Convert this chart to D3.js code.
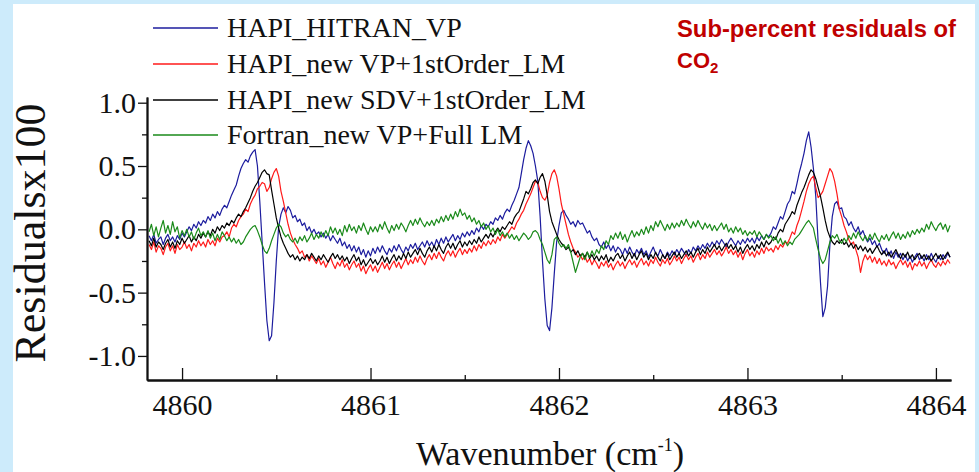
<!DOCTYPE html>
<html>
<head>
<meta charset="utf-8">
<script src="https://cdn.jsdelivr.net/npm/d3@7"></script>
<style>
  html, body { margin: 0; padding: 0; background: #cdebfb; }
  svg { display: block; }
</style>
</head>
<body>
<svg id="chart" width="979" height="472"></svg>
<script>
// ---------------- DATA ----------------
// spectral sampling grid (cm^-1)
const wavenumberStart = 4859.825;
const wavenumberStep = 0.0125;
const sampleCount = 341;

const seriesNames = ["HAPI_HITRAN_VP", "HAPI_new VP+1stOrder_LM", "HAPI_new SDV+1stOrder_LM", "Fortran_new VP+Full LM"];

const hapiHitranVP = [
-0.05,-0.09,-0.04,-0.11,-0.08,-0.06,-0.12,-0.07,
-0.04,-0.09,-0.06,-0.10,-0.05,-0.08,-0.03,-0.06,
-0.02,0.02,-0.01,0.04,0.01,0.06,0.03,0.07,
0.05,0.10,0.07,0.12,0.09,0.14,0.11,0.16,
0.19,0.17,0.22,0.27,0.31,0.35,0.42,0.48,
0.52,0.55,0.53,0.58,0.61,0.63,0.50,0.22,
-0.10,-0.42,-0.72,-0.88,-0.84,-0.58,-0.25,0.02,
0.12,0.17,0.13,0.18,0.15,0.09,0.11,0.06,
0.08,0.03,0.05,-0.01,0.02,-0.03,0.00,-0.04,
-0.02,-0.06,-0.03,-0.07,-0.04,-0.09,-0.05,-0.08,
-0.11,-0.07,-0.13,-0.10,-0.15,-0.12,-0.17,-0.13,
-0.18,-0.14,-0.20,-0.16,-0.22,-0.17,-0.21,-0.15,
-0.19,-0.14,-0.18,-0.13,-0.17,-0.20,-0.15,-0.18,
-0.13,-0.17,-0.12,-0.16,-0.19,-0.14,-0.17,-0.12,
-0.15,-0.11,-0.16,-0.13,-0.10,-0.14,-0.09,-0.13,
-0.10,-0.14,-0.08,-0.12,-0.07,-0.11,-0.06,-0.10,
-0.07,-0.04,-0.09,-0.05,-0.08,-0.03,-0.06,-0.02,
-0.05,-0.01,-0.04,0.01,-0.02,0.03,0.00,0.04,
0.02,0.06,0.04,0.09,0.07,0.11,0.08,0.13,
0.16,0.14,0.19,0.23,0.28,0.33,0.44,0.55,
0.64,0.70,0.66,0.60,0.50,0.38,0.10,-0.25,
-0.55,-0.76,-0.80,-0.62,-0.35,-0.10,0.03,0.13,
0.15,0.11,0.08,0.04,0.06,0.02,0.07,0.04,
0.05,0.01,-0.03,-0.01,-0.06,-0.09,-0.07,-0.12,
-0.14,-0.10,-0.15,-0.12,-0.17,-0.13,-0.18,-0.14,
-0.16,-0.20,-0.15,-0.19,-0.14,-0.18,-0.21,-0.16,
-0.19,-0.15,-0.20,-0.17,-0.22,-0.18,-0.14,-0.19,
-0.21,-0.16,-0.20,-0.23,-0.18,-0.21,-0.17,-0.20,
-0.16,-0.19,-0.15,-0.18,-0.21,-0.16,-0.19,-0.14,
-0.17,-0.13,-0.16,-0.12,-0.15,-0.11,-0.14,-0.10,
-0.13,-0.09,-0.12,-0.08,-0.11,-0.14,-0.10,-0.07,
-0.10,-0.13,-0.09,-0.12,-0.08,-0.11,-0.07,-0.10,
-0.07,-0.11,-0.06,-0.09,-0.05,-0.08,-0.04,-0.06,
-0.03,0.02,0.00,0.05,0.10,0.08,0.14,0.20,
0.23,0.30,0.28,0.36,0.45,0.52,0.60,0.70,
0.77,0.65,0.48,0.26,-0.10,-0.42,-0.69,-0.62,
-0.45,-0.12,0.10,0.20,0.22,0.16,0.17,0.10,
0.08,0.03,0.06,0.01,-0.02,0.02,-0.04,-0.01,
-0.06,-0.10,-0.07,-0.12,-0.09,-0.14,-0.11,-0.16,
-0.19,-0.15,-0.21,-0.17,-0.23,-0.18,-0.22,-0.19,
-0.24,-0.20,-0.25,-0.21,-0.26,-0.22,-0.19,-0.24,
-0.21,-0.25,-0.20,-0.24,-0.19,-0.23,-0.26,-0.21,
-0.24,-0.20,-0.23,-0.19,-0.22
];

const hapiNewVP = [
-0.12,-0.16,-0.10,-0.18,-0.13,-0.15,-0.20,-0.14,
-0.11,-0.17,-0.13,-0.19,-0.12,-0.16,-0.14,-0.10,
-0.15,-0.12,-0.17,-0.11,-0.14,-0.09,-0.13,-0.10,
-0.14,-0.08,-0.12,-0.09,-0.13,-0.07,-0.10,-0.06,
-0.05,-0.02,-0.06,0.01,0.04,0.02,0.07,0.10,
0.12,0.16,0.14,0.20,0.24,0.27,0.32,0.34,
0.37,0.36,0.30,0.33,0.40,0.45,0.48,0.42,
0.30,0.22,0.13,0.04,-0.03,-0.08,-0.12,-0.15,
-0.19,-0.17,-0.22,-0.20,-0.25,-0.21,-0.24,-0.27,
-0.23,-0.28,-0.25,-0.30,-0.26,-0.22,-0.27,-0.31,
-0.26,-0.29,-0.24,-0.30,-0.27,-0.32,-0.28,-0.25,
-0.30,-0.27,-0.33,-0.29,-0.35,-0.31,-0.28,-0.33,
-0.29,-0.34,-0.30,-0.26,-0.31,-0.27,-0.32,-0.28,
-0.25,-0.30,-0.26,-0.31,-0.27,-0.23,-0.28,-0.24,
-0.27,-0.22,-0.26,-0.21,-0.25,-0.28,-0.23,-0.20,
-0.24,-0.19,-0.23,-0.18,-0.22,-0.25,-0.20,-0.17,
-0.21,-0.17,-0.22,-0.18,-0.15,-0.20,-0.16,-0.19,
-0.15,-0.18,-0.13,-0.17,-0.12,-0.15,-0.10,-0.13,
-0.09,-0.12,-0.08,-0.11,-0.06,-0.09,-0.04,-0.07,
-0.04,-0.01,0.02,0.00,0.05,0.08,0.12,0.15,
0.20,0.24,0.28,0.33,0.38,0.37,0.30,0.25,
0.23,0.27,0.37,0.44,0.47,0.42,0.32,0.20,
0.12,0.04,-0.04,-0.10,-0.15,-0.18,-0.22,-0.20,
-0.24,-0.21,-0.26,-0.23,-0.28,-0.24,-0.27,-0.31,
-0.26,-0.29,-0.25,-0.30,-0.27,-0.32,-0.28,-0.25,
-0.29,-0.26,-0.31,-0.27,-0.24,-0.28,-0.25,-0.30,
-0.26,-0.23,-0.28,-0.25,-0.29,-0.24,-0.27,-0.22,
-0.26,-0.29,-0.24,-0.27,-0.23,-0.28,-0.25,-0.21,
-0.25,-0.22,-0.27,-0.23,-0.20,-0.24,-0.21,-0.26,
-0.22,-0.19,-0.24,-0.20,-0.23,-0.18,-0.22,-0.19,
-0.16,-0.20,-0.17,-0.21,-0.18,-0.14,-0.19,-0.16,
-0.20,-0.17,-0.22,-0.18,-0.24,-0.19,-0.16,-0.21,
-0.18,-0.22,-0.17,-0.20,-0.15,-0.19,-0.14,-0.17,
-0.15,-0.18,-0.13,-0.16,-0.12,-0.14,-0.10,-0.11,
-0.07,-0.02,-0.04,0.03,0.08,0.15,0.22,0.30,
0.36,0.40,0.42,0.33,0.25,0.27,0.30,0.36,
0.42,0.48,0.45,0.38,0.28,0.16,0.10,0.03,
-0.02,-0.08,-0.12,-0.10,-0.16,-0.22,-0.34,-0.25,
-0.20,-0.24,-0.21,-0.26,-0.22,-0.27,-0.23,-0.28,
-0.25,-0.29,-0.24,-0.28,-0.26,-0.31,-0.27,-0.24,
-0.28,-0.25,-0.30,-0.26,-0.32,-0.27,-0.29,-0.25,
-0.29,-0.26,-0.31,-0.27,-0.24,-0.28,-0.30,-0.26,
-0.29,-0.25,-0.28,-0.24,-0.27
];

const hapiNewSDV = [
-0.09,-0.13,-0.07,-0.14,-0.10,-0.12,-0.16,-0.11,
-0.08,-0.14,-0.10,-0.15,-0.09,-0.12,-0.07,-0.11,
-0.08,-0.05,-0.10,-0.06,-0.09,-0.04,-0.07,-0.03,
-0.06,-0.02,-0.05,0.00,-0.03,0.02,-0.01,0.03,
0.01,0.05,0.03,0.07,0.05,0.09,0.12,0.10,
0.14,0.17,0.21,0.25,0.30,0.34,0.37,0.41,
0.45,0.47,0.44,0.43,0.31,0.20,0.09,0.01,
-0.06,-0.11,-0.15,-0.19,-0.22,-0.20,-0.24,-0.21,
-0.25,-0.22,-0.24,-0.20,-0.23,-0.19,-0.22,-0.25,
-0.21,-0.24,-0.20,-0.23,-0.26,-0.22,-0.19,-0.23,
-0.20,-0.24,-0.21,-0.25,-0.22,-0.27,-0.23,-0.20,
-0.25,-0.22,-0.28,-0.24,-0.29,-0.26,-0.23,-0.27,
-0.24,-0.28,-0.25,-0.21,-0.26,-0.22,-0.27,-0.23,
-0.20,-0.25,-0.21,-0.24,-0.19,-0.23,-0.18,-0.22,
-0.19,-0.16,-0.20,-0.15,-0.19,-0.22,-0.17,-0.14,
-0.18,-0.13,-0.17,-0.12,-0.16,-0.19,-0.14,-0.11,
-0.15,-0.11,-0.16,-0.12,-0.09,-0.14,-0.10,-0.13,
-0.09,-0.12,-0.08,-0.11,-0.06,-0.10,-0.07,-0.04,
-0.07,-0.03,-0.06,-0.02,0.01,-0.02,0.02,0.00,
0.03,0.06,0.04,0.09,0.12,0.14,0.19,0.24,
0.30,0.28,0.32,0.37,0.39,0.36,0.41,0.44,
0.38,0.27,0.14,0.06,0.01,-0.04,-0.08,-0.11,
-0.13,-0.16,-0.14,-0.18,-0.16,-0.20,-0.17,-0.21,
-0.19,-0.22,-0.18,-0.23,-0.20,-0.24,-0.21,-0.25,
-0.21,-0.24,-0.20,-0.26,-0.22,-0.25,-0.21,-0.19,
-0.23,-0.20,-0.25,-0.21,-0.18,-0.23,-0.19,-0.24,
-0.20,-0.17,-0.22,-0.19,-0.24,-0.20,-0.23,-0.18,
-0.22,-0.25,-0.20,-0.23,-0.19,-0.24,-0.21,-0.18,
-0.22,-0.19,-0.23,-0.20,-0.17,-0.21,-0.18,-0.22,
-0.18,-0.15,-0.20,-0.16,-0.19,-0.14,-0.18,-0.15,
-0.12,-0.16,-0.13,-0.17,-0.14,-0.11,-0.15,-0.12,
-0.16,-0.13,-0.18,-0.14,-0.19,-0.15,-0.12,-0.16,
-0.13,-0.17,-0.12,-0.15,-0.10,-0.14,-0.09,-0.12,
-0.10,-0.06,-0.08,-0.03,0.00,-0.02,0.04,0.07,
0.10,0.14,0.12,0.19,0.24,0.29,0.33,0.38,
0.43,0.47,0.45,0.40,0.33,0.26,0.17,0.07,
-0.01,-0.06,-0.10,-0.12,-0.09,-0.11,-0.08,-0.12,
-0.10,-0.14,-0.11,-0.15,-0.12,-0.16,-0.13,-0.17,
-0.14,-0.18,-0.15,-0.19,-0.16,-0.13,-0.17,-0.20,
-0.17,-0.21,-0.18,-0.22,-0.19,-0.16,-0.20,-0.23,
-0.19,-0.22,-0.18,-0.23,-0.20,-0.24,-0.21,-0.19,
-0.23,-0.20,-0.24,-0.21,-0.25,-0.22,-0.19,-0.23,
-0.20,-0.24,-0.21,-0.18,-0.22
];

const fortranNewVP = [
-0.02,0.04,-0.05,0.02,-0.06,0.01,0.07,-0.03,
0.03,-0.04,0.06,-0.02,0.02,-0.07,-0.01,-0.05,
0.00,-0.06,-0.02,-0.08,-0.03,0.01,-0.05,-0.02,
-0.06,-0.01,-0.07,-0.03,-0.09,-0.04,-0.08,-0.02,
-0.05,-0.09,-0.06,-0.10,-0.07,-0.11,-0.08,-0.12,
-0.10,-0.06,-0.03,0.00,0.02,0.03,-0.01,-0.06,
-0.12,-0.17,-0.19,-0.15,-0.09,-0.04,0.01,0.04,
0.02,-0.03,-0.06,-0.04,-0.08,-0.10,-0.07,-0.11,
-0.06,-0.09,-0.05,-0.10,-0.07,-0.03,-0.08,-0.04,
-0.07,-0.02,-0.06,-0.01,-0.05,0.02,-0.03,0.01,
-0.04,0.00,-0.05,0.03,-0.02,0.04,-0.01,0.02,
-0.03,0.03,-0.01,0.05,0.00,-0.04,0.02,-0.02,
0.02,-0.02,0.04,0.00,0.06,0.01,-0.03,0.03,
-0.01,0.04,0.00,0.05,0.02,-0.02,0.03,0.07,
0.03,0.08,0.04,0.09,0.05,0.02,0.06,0.03,
0.07,0.03,0.08,0.05,0.10,0.06,0.11,0.07,
0.12,0.08,0.14,0.10,0.16,0.11,0.13,0.08,
0.11,0.06,0.09,0.04,0.07,0.02,0.05,0.00,
0.03,-0.02,0.01,-0.04,0.00,-0.05,-0.02,-0.06,
-0.03,-0.07,-0.04,-0.08,-0.05,-0.09,-0.06,-0.03,
-0.05,-0.08,-0.06,-0.02,-0.01,-0.03,-0.08,-0.12,
-0.18,-0.24,-0.27,-0.20,-0.08,-0.06,-0.11,-0.14,
-0.12,-0.15,-0.12,-0.18,-0.26,-0.34,-0.28,-0.22,
-0.19,-0.24,-0.18,-0.22,-0.17,-0.21,-0.16,-0.19,
-0.13,-0.16,-0.09,-0.12,-0.05,-0.08,-0.03,-0.07,
-0.02,-0.08,-0.04,-0.10,-0.05,-0.01,-0.06,-0.02,
-0.05,0.00,-0.04,0.02,-0.03,0.03,-0.01,0.06,
0.02,0.07,0.03,-0.01,0.04,0.00,0.05,0.01,
0.05,0.02,0.07,0.03,0.08,0.04,0.01,0.06,
0.02,0.07,0.03,0.00,0.05,0.01,0.04,-0.01,
0.03,-0.01,0.02,0.05,0.00,0.04,-0.02,0.01,
-0.03,0.02,-0.02,0.01,-0.04,-0.01,-0.05,-0.02,
-0.04,-0.01,-0.06,-0.02,-0.05,-0.08,-0.04,-0.07,
-0.05,-0.09,-0.06,-0.11,-0.07,-0.12,-0.09,-0.13,
-0.10,-0.12,-0.08,-0.06,-0.04,-0.01,0.02,0.05,
0.07,0.04,0.01,-0.08,-0.16,-0.23,-0.27,-0.24,
-0.17,-0.10,-0.05,-0.07,-0.04,-0.09,-0.11,-0.07,
-0.10,-0.05,-0.08,-0.03,-0.07,-0.02,-0.06,-0.09,
-0.05,-0.09,-0.04,-0.08,-0.03,-0.07,-0.10,-0.05,
-0.08,-0.04,-0.09,-0.05,-0.02,-0.07,-0.03,-0.08,
-0.04,-0.07,-0.02,-0.06,-0.01,-0.04,0.00,-0.03,
0.01,-0.02,0.04,0.00,0.06,0.02,-0.01,0.03,
0.05,0.00,0.04,-0.02,0.03
];

const xTickValues = [4860, 4861, 4862, 4863, 4864];
const xMinorTickValues = [4860.5, 4861.5, 4862.5, 4863.5];
const yTickValues = [-1.0, -0.5, 0.0, 0.5, 1.0];
const yMinorTickValues = [-0.75, -0.25, 0.25, 0.75];

const xDomain = [4859.814, 4864.08];
const yDomain = [-1.19, 1.045];

// ---------------- DRAW ----------------
const svg = d3.select("#chart");
const serif = "'Liberation Serif','Times New Roman',serif";
const colors = ["#1c1c9e", "#ff1a1a", "#000000", "#1a8a1a"];

// white panel on light-blue frame
svg.append("rect").attr("x", 0).attr("y", 0).attr("width", 979).attr("height", 472).attr("fill", "#cdebfb");
svg.append("rect").attr("x", 13).attr("y", 4).attr("width", 962).attr("height", 468).attr("fill", "#ffffff");

const plot = { left: 147, right: 951, top: 97, bottom: 380 };
const x = d3.scaleLinear().domain(xDomain).range([plot.left, plot.right]);
const y = d3.scaleLinear().domain(yDomain).range([plot.bottom, plot.top]);

const wavenumbers = d3.range(sampleCount).map(i => +(wavenumberStart + i * wavenumberStep).toFixed(4));
const allSeries = [hapiHitranVP, hapiNewVP, hapiNewSDV, fortranNewVP];

svg.append("clipPath").attr("id", "clip")
  .append("rect").attr("x", plot.left).attr("y", plot.top)
  .attr("width", plot.right - plot.left).attr("height", plot.bottom - plot.top);

const line = d3.line().x(d => x(d[0])).y(d => y(d[1]));
const gLines = svg.append("g").attr("clip-path", "url(#clip)");
allSeries.forEach((s, k) => {
  const pts = s.map((v, i) => [wavenumbers[i], v]);
  gLines.append("path").datum(pts)
    .attr("fill", "none").attr("stroke", colors[k])
    .attr("stroke-width", 1.2).attr("stroke-linejoin", "round")
    .attr("d", line);
});

// axes
const fmt = d => d3.format(".1f")(d).replace("\u2212", "-");

const xAxisMinor = d3.axisBottom(x).tickValues(xMinorTickValues).tickSizeInner(-5).tickSizeOuter(0).tickFormat("");
const xAxis = d3.axisBottom(x).tickValues(xTickValues).tickSizeInner(-12).tickSizeOuter(0).tickPadding(14).tickFormat(d3.format("d"));
const yAxisMinor = d3.axisLeft(y).tickValues(yMinorTickValues).tickSizeInner(5).tickSizeOuter(0).tickFormat("");
const yAxis = d3.axisLeft(y).tickValues(yTickValues).tickSizeInner(9).tickSizeOuter(0).tickPadding(2).tickFormat(fmt);

function styleAxis(g) {
  g.select(".domain").attr("stroke", "#111").attr("stroke-width", 1.8);
  g.selectAll(".tick line").attr("stroke", "#111").attr("stroke-width", 1.3);
  g.selectAll(".tick text").attr("font-family", serif).attr("font-size", 30).attr("fill", "#111");
}

svg.append("g").attr("transform", `translate(0,${plot.bottom})`).call(xAxisMinor).call(styleAxis);
svg.append("g").attr("transform", `translate(0,${plot.bottom})`).call(xAxis).call(styleAxis);
svg.append("g").attr("transform", `translate(${plot.left},0)`).call(yAxisMinor).call(styleAxis);
svg.append("g").attr("transform", `translate(${plot.left},0)`).call(yAxis).call(styleAxis);

// axis titles
const xt = svg.append("text").attr("x", 550).attr("y", 465).attr("text-anchor", "middle")
  .attr("font-family", serif).attr("font-size", 34).attr("fill", "#111");
xt.append("tspan").text("Wavenumber (cm");
xt.append("tspan").attr("font-size", 18).attr("dy", -14).text("-1");
xt.append("tspan").attr("dy", 14).text(")");

svg.append("text").attr("transform", "translate(45,233) rotate(-90)")
  .attr("text-anchor", "middle").attr("font-family", serif).attr("font-size", 44)
  .attr("fill", "#111").text("Residualsx100");

// legend
const legendRows = [28, 64, 100, 135];
seriesNames.forEach((name, k) => {
  const ly = legendRows[k];
  svg.append("line").attr("x1", 153).attr("x2", 218).attr("y1", ly).attr("y2", ly)
    .attr("stroke", colors[k]).attr("stroke-width", 1.3);
  svg.append("text").attr("x", 227).attr("y", ly + 9)
    .attr("font-family", serif).attr("font-size", 28).attr("fill", "#111").text(name);
});

// annotation
const sans = "'Liberation Sans',Arial,sans-serif";
svg.append("text").attr("x", 677).attr("y", 37).attr("font-family", sans)
  .attr("font-weight", "bold").attr("font-size", 23.8).attr("fill", "#c00000")
  .text("Sub-percent residuals of");
const co = svg.append("text").attr("x", 677).attr("y", 68).attr("font-family", sans)
  .attr("font-weight", "bold").attr("font-size", 22).attr("fill", "#c00000");
co.append("tspan").text("CO");
co.append("tspan").attr("font-size", 15).attr("dy", 5).text("2");
</script>
</body>
</html>
